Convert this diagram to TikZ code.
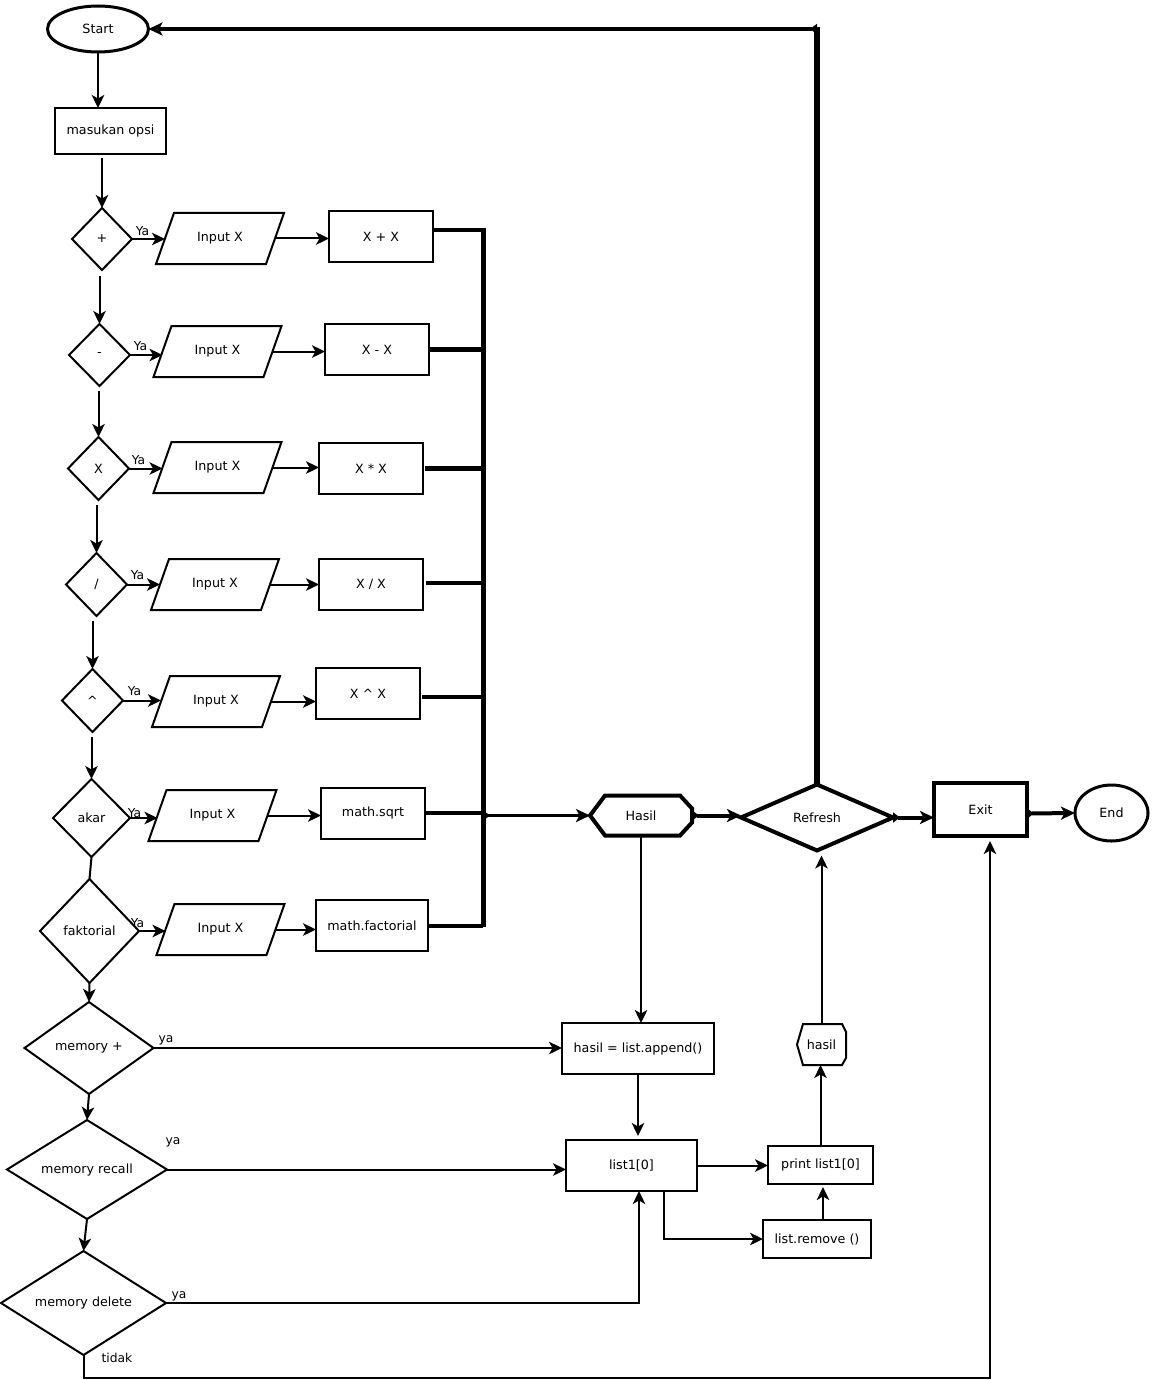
\documentclass[tikz,border=0pt]{standalone}
\usepackage{fontspec}
\setmainfont{DejaVu Sans}
\usetikzlibrary{shapes.geometric,arrows.meta}
% parallelogram outline drawn on a named io node
\newcommand\paral[1]{\draw[ln, line join=miter] ([xshift=9pt]#1.north west) -- ([xshift=9pt]#1.north east)
  -- ([xshift=-9pt]#1.south east) -- ([xshift=-9pt]#1.south west) -- cycle;}
\begin{document}
\begin{tikzpicture}[x=1pt,y=-1pt,
  every node/.style={font=\fontsize{12.7pt}{15pt}\selectfont, inner sep=0pt, outer sep=0pt},
  term/.style={ellipse, draw, line width=3pt},
  proc/.style={rectangle, draw, line width=2pt},
  dec/.style={diamond, draw, line width=2pt},
  io/.style={rectangle, minimum width=128pt, minimum height=51pt, outer xsep=-9pt, outer ysep=0pt},
  lbl/.style={font=\fontsize{12.3pt}{14pt}\selectfont},
  ln/.style={line width=2pt},
  arr/.style={line width=2pt, -{Stealth[length=13pt,width=12.5pt,inset=3.5pt]}},
  tharr/.style={line width=4pt, {Triangle[reversed,length=7pt,width=10pt]}-{Stealth[length=14pt,width=13pt,inset=3.5pt]}},
  busarr/.style={line width=3.5pt, {Triangle[reversed,length=7pt,width=10pt]}-{Stealth[length=14pt,width=13pt,inset=3.5pt]}},
  bus/.style={line width=5pt},
  hexline/.style={line width=4pt, line join=miter},
  hexthin/.style={line width=2pt, line join=miter},
]
\useasboundingbox (0,0) rectangle (1152,1380);
\fill[white] (0,0) rectangle (1152,1380);

% ---- left column ----
\node[term, minimum width=101pt, minimum height=46pt] (start) at (98,29) {Start};
\node[proc, minimum width=111pt, minimum height=46pt] (opsi) at (110.5,131) {masukan opsi};

\node[dec, minimum width=60pt, minimum height=62pt] (d1) at (102,239) {+};
\node[io] (i1) at (220,238.5) {Input X};
\node[proc, minimum width=104pt, minimum height=51pt] (r1) at (381,236.5) {X + X};

\node[dec, minimum width=61pt, minimum height=62pt] (d2) at (99.5,355) {-};
\node[io] (i2) at (217.5,351.5) {Input X};
\node[proc, minimum width=104pt, minimum height=51pt] (r2) at (377,349.5) {X - X};

\node[dec, minimum width=61pt, minimum height=63pt] (d3) at (98.5,468.5) {X};
\node[io] (i3) at (217.5,467.5) {Input X};
\node[proc, minimum width=104pt, minimum height=51pt] (r3) at (371,468.5) {X * X};

\node[dec, minimum width=61pt, minimum height=63pt] (d4) at (96.5,584.5) {/};
\node[io] (i4) at (215,584.5) {Input X};
\node[proc, minimum width=104pt, minimum height=51pt] (r4) at (371,584.5) {X / X};

\node[dec, minimum width=61pt, minimum height=63pt] (d5) at (92.5,700.5) {\textasciicircum};
\node[io] (i5) at (216,701.5) {Input X};
\node[proc, minimum width=104pt, minimum height=51pt] (r5) at (368,693.5) {X \textasciicircum{} X};

\node[dec, minimum width=77pt, minimum height=78pt] (d6) at (91.5,818) {akar};
\node[io] (i6) at (212.5,815.5) {Input X};
\node[proc, minimum width=104pt, minimum height=51pt] (r6) at (373,813) {math.sqrt};

\node[dec, minimum width=99pt, minimum height=104pt] (d7) at (89.5,931) {faktorial};
\node[io] (i7) at (220.5,929.5) {Input X};
\node[proc, minimum width=112pt, minimum height=51pt] (r7) at (372,925.5) {math.factorial};

\foreach \n in {i1,i2,i3,i4,i5,i6,i7} {\paral{\n}}

\node[dec, aspect=1.4, minimum width=129pt, minimum height=92pt] (m1) at (89,1048) {memory +};
\node[dec, aspect=1.6, minimum width=160pt, minimum height=99pt] (m2) at (87,1169.5) {memory recall};
\node[dec, aspect=1.6, minimum width=165pt, minimum height=104pt] (m3) at (83.5,1303) {memory delete};

% ---- right part ----
\node[minimum width=102pt, minimum height=40pt] (hasilB) at (641,815.5) {Hasil};
\draw[hexline] (hasilB.west) -- ([xshift=15pt]hasilB.north west) -- ([xshift=-12pt]hasilB.north east)
  -- ([yshift=-13pt]hasilB.north east) -- ([yshift=13pt]hasilB.south east)
  -- ([xshift=-12pt]hasilB.south east) -- ([xshift=15pt]hasilB.south west) -- cycle;

\node[dec, line width=4pt, aspect=2.3, minimum width=152pt, minimum height=66pt] (refresh) at (817,817.5) {Refresh};
\node[proc, line width=4pt, minimum width=93pt, minimum height=53pt] (exit) at (980.5,809.5) {Exit};
\node[term, minimum width=73pt, minimum height=56pt] (endn) at (1111.5,813) {End};

\node[proc, minimum width=152pt, minimum height=51pt] (append) at (638,1048.5) {hasil = list.append()};
\node[proc, minimum width=131pt, minimum height=51pt] (list1) at (631.5,1165.5) {list1[0]};
\node[proc, minimum width=105pt, minimum height=38pt] (print) at (820.5,1165) {print list1[0]};
\node[proc, minimum width=108pt, minimum height=38pt] (remove) at (817,1239) {list.remove ()};

\node[minimum width=49pt, minimum height=41pt] (hasilS) at (821.5,1044.5) {hasil};
\draw[hexthin] (hasilS.west) -- ([xshift=6pt]hasilS.north west) -- ([xshift=-4pt]hasilS.north east)
  -- ([yshift=-8pt]hasilS.north east) -- ([yshift=7pt]hasilS.south east)
  -- ([xshift=-4pt]hasilS.south east) -- ([xshift=6pt]hasilS.south west) -- cycle;

% ---- labels ----
\node[lbl] at (142.5,231) {Ya};
\node[lbl] at (140.5,346) {Ya};
\node[lbl] at (138.5,460) {Ya};
\node[lbl] at (137.5,575) {Ya};
\node[lbl] at (134.5,691) {Ya};
\node[lbl] at (134.5,813) {Ya};
\node[lbl] at (137.5,923) {Ya};
\node[lbl] at (166,1040) {ya};
\node[lbl] at (173,1142) {ya};
\node[lbl] at (179,1296) {ya};
\node[lbl] at (117,1358) {tidak};

% ---- coordinates ----
\coordinate (bustop) at (483,228);
\coordinate (busbot) at (483,927);
\coordinate (corner) at (refresh.north |- start.east);
\coordinate (bl) at (83.5,1378);
\coordinate (ex) at ([xshift=9.5pt]exit.south);
\coordinate (l1b) at ([xshift=7.5pt]list1.south);
\coordinate (l1c) at ([xshift=32.5pt]list1.south);
\coordinate (rmn) at ([xshift=6pt]remove.north);

% ---- connectors: main chain ----
\draw[arr] (start.south) -- (start.south |- opsi.north);
\draw[arr, shorten <=4pt] (d1.north |- opsi.south) -- (d1.north);
\draw[arr, shorten <=6pt] (d2.north |- d1.south) -- (d2.north);
\draw[arr, shorten <=5pt] (d3.north |- d2.south) -- (d3.north);
\draw[arr, shorten <=5pt] (d4.north |- d3.south) -- (d4.north);
\draw[arr, shorten <=5pt] (d5.north |- d4.south) -- (d5.north);
\draw[arr, shorten <=5pt] (d6.north |- d5.south) -- (d6.north);
\draw[ln] (d6.south) -- (d7.north);
\draw[arr] (d7.south) -- (m1.north);
\draw[arr] (m1.south) -- (m2.north);
\draw[arr] (m2.south) -- (m3.north);

% ---- decision -> input -> process ----
\draw[arr] (d1.east) -- (d1.east -| i1.west);
\draw[arr] (d2.east) -- (d2.east -| i2.west);
\draw[arr] (d3.east) -- (d3.east -| i3.west);
\draw[arr] (d4.east) -- (d4.east -| i4.west);
\draw[arr] (d5.east) -- (d5.east -| i5.west);
\draw[arr] (d6.east) -- (d6.east -| i6.west);
\draw[arr] (d7.east) -- (d7.east -| i7.west);

\draw[arr] (i1.east) -- (i1.east -| r1.west);
\draw[arr] (i2.east) -- (i2.east -| r2.west);
\draw[arr] (i3.east) -- (i3.east -| r3.west);
\draw[arr] (i4.east) -- (i4.east -| r4.west);
\draw[arr] (i5.east) -- (i5.east -| r5.west);
\draw[arr] (i6.east) -- (i6.east -| r6.west);
\draw[arr] (i7.east) -- (i7.east -| r7.west);

% ---- bus ----
\draw[bus] (bustop) -- (busbot);
\draw[line width=4.7pt] ([yshift=6.5pt]r1.east) -- ([yshift=6.5pt]r1.east -| bustop);
\draw[line width=4.7pt] (r2.east) -- (r2.east -| bustop);
\draw[line width=5pt] ([xshift=2pt]r3.east) -- (r3.east -| bustop);
\draw[line width=3.3pt] ([xshift=3pt,yshift=1.5pt]r4.east) -- ([yshift=1.5pt]r4.east -| bustop);
\draw[line width=3.5pt] ([xshift=2pt,yshift=-3.5pt]r5.east) -- ([yshift=-3.5pt]r5.east -| bustop);
\draw[line width=4.5pt] (r6.east) -- (r6.east -| bustop);
\draw[line width=4pt] (r7.east) -- (r7.east -| bustop);
\draw[busarr] (hasilB.west -| bustop) -- (hasilB.west);

% ---- right flow ----
\draw[tharr] (hasilB.east) -- (hasilB.east -| refresh.west);
\draw[tharr] (refresh.east) -- (refresh.east -| exit.west);
\draw[tharr] ([yshift=-4pt]exit.east) -- (endn.west);
\draw[line width=6.5pt] (refresh.north) -- ([yshift=2pt]corner);
\draw[tharr] (corner) -- (start.east);

\draw[arr] (hasilB.south) -- (hasilB.south |- append.north);
\draw[arr] (m1.east) -- (m1.east -| append.west);
\draw[arr, shorten >=4pt] (append.south) -- (append.south |- list1.north);
\draw[arr] (m2.east) -- (m2.east -| list1.west);
\draw[arr] (m3.east) -| (l1b);
\draw[arr] (list1.east) -- (list1.east -| print.west);
\draw[arr] (l1c) |- (remove.west);
\draw[arr, shorten >=3pt] (rmn) -- (rmn |- print.south);
\draw[arr] (print.north) -- (print.north |- hasilS.south);
\draw[arr, shorten >=5pt] (hasilS.north) -- (hasilS.north |- refresh.south);
\draw[arr, shorten >=5pt] (m3.south) -- (bl) -| (ex);
\end{tikzpicture}
\end{document}
